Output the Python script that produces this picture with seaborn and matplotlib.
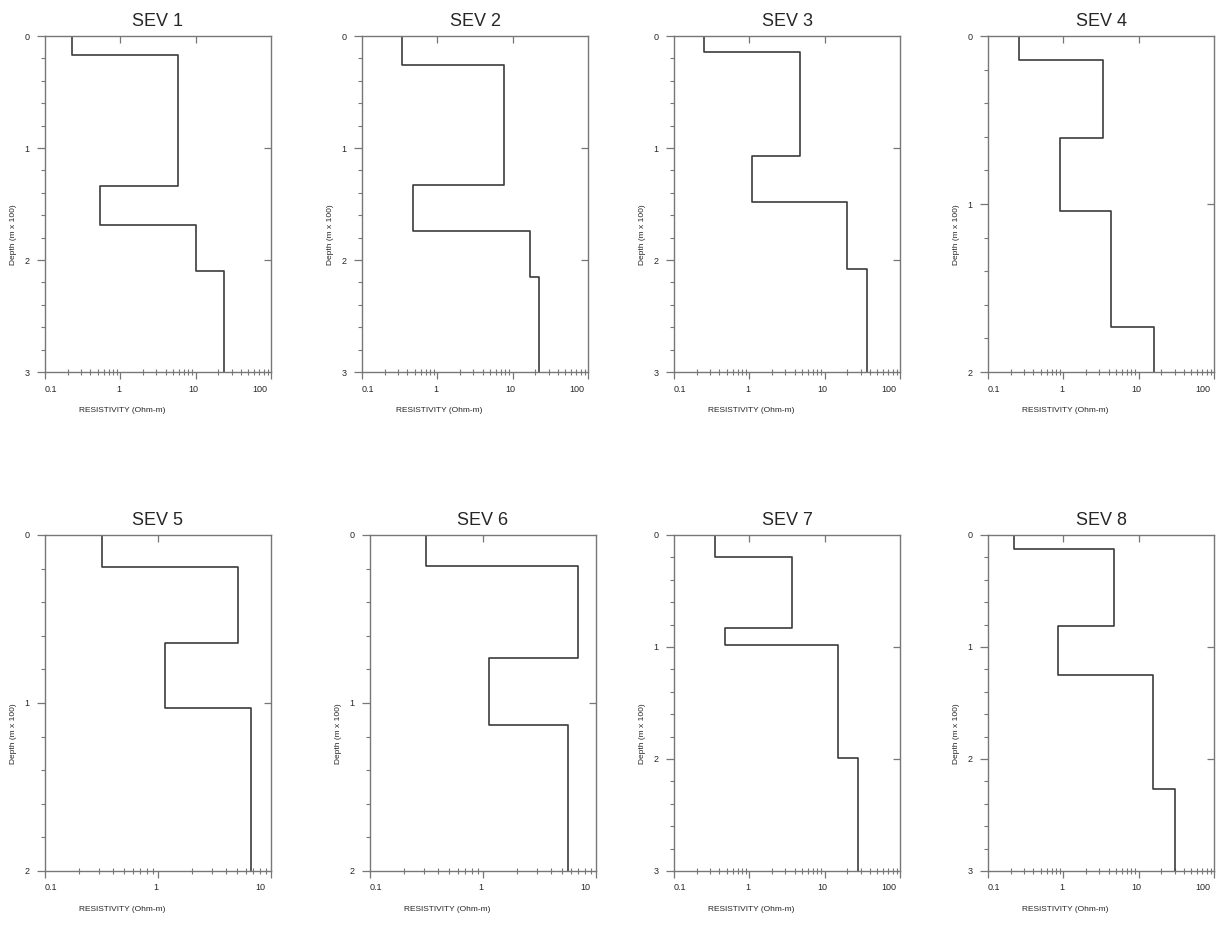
import numpy as np
import pandas as pd
import matplotlib
matplotlib.use("Agg")
import matplotlib.pyplot as plt
from matplotlib.transforms import ScaledTranslation
import seaborn as sns

sev_names = ["SEV 1", "SEV 2", "SEV 3", "SEV 4", "SEV 5", "SEV 6", "SEV 7", "SEV 8"]

# layer resistivities (Ohm-m) and layer bottom depths (m x 100)
sev1_res = [0.23, 5.8, 0.545, 10.2, 23.6]
sev1_depth = [0.17, 1.34, 1.69, 2.10]
sev2_res = [0.34, 7.6, 0.47, 17.0, 22.5]
sev2_depth = [0.26, 1.33, 1.74, 2.15]
sev3_res = [0.25, 4.75, 1.07, 19.8, 37.0]
sev3_depth = [0.14, 1.07, 1.48, 2.08]
sev4_res = [0.26, 3.4, 0.89, 4.3, 16.0]
sev4_depth = [0.145, 0.605, 1.04, 1.735]
sev5_res = [0.32, 5.1, 1.16, 6.6]
sev5_depth = [0.19, 0.645, 1.03]
sev6_res = [0.315, 7.0, 1.13, 5.7]
sev6_depth = [0.185, 0.73, 1.13]
sev7_res = [0.35, 3.7, 0.47, 15.2, 27.5]
sev7_depth = [0.20, 0.83, 0.98, 1.99]
sev8_res = [0.22, 4.7, 0.85, 15.4, 30.0]
sev8_depth = [0.125, 0.81, 1.25, 2.27]

all_res = [sev1_res, sev2_res, sev3_res, sev4_res, sev5_res, sev6_res, sev7_res, sev8_res]
all_depth = [sev1_depth, sev2_depth, sev3_depth, sev4_depth,
             sev5_depth, sev6_depth, sev7_depth, sev8_depth]
max_depth = [3, 3, 3, 2, 2, 2, 3, 3]
max_res = [100, 100, 100, 100, 10, 10, 100, 100]

sns.set_style("ticks")
plt.rcParams['font.family'] = ['Liberation Sans', 'DejaVu Sans']

spine_col = "#777777"
line_col = "#3c3c3c"

fig = plt.figure(figsize=(12.18, 9.32), dpi=100)
W, H = 1218, 932
lefts = [45, 362, 674, 988, 45, 370, 674, 988]
tops = [36, 36, 36, 36, 535, 535, 535, 535]
aw, ah = 226, 336


def step_frame(res, depth, dmax):
    xs, ys = [], []
    bounds = [0] + list(depth) + [dmax]
    for i, r in enumerate(res):
        xs += [r, r]
        ys += [bounds[i], bounds[i + 1]]
    return pd.DataFrame({"res": xs, "depth": ys})


for k in range(8):
    ax = fig.add_axes([lefts[k] / W, 1 - (tops[k] + ah) / H, aw / W, ah / H])
    df = step_frame(all_res[k], all_depth[k], max_depth[k])
    sns.lineplot(data=df, x="res", y="depth", sort=False, estimator=None,
                 ax=ax, color=line_col, lw=1.2)
    ax.set_xscale("log")
    ax.set_xlim(0.1, max_res[k])
    ax.set_ylim(max_depth[k], 0)

    decades = [0.1, 1, 10, 100] if max_res[k] == 100 else [0.1, 1, 10]
    ax.set_xticks(decades)
    ax.set_xticklabels([f"{d:g}" for d in decades])
    minors = [m * d for d in decades[:-1] for m in range(2, 10)]
    ax.set_xticks(minors, minor=True)
    ax.set_yticks(range(0, max_depth[k] + 1))
    ax.set_yticks(np.arange(0, max_depth[k] + 0.01, 0.2), minor=True)

    ax.tick_params(axis="x", which="major", direction="out", length=5, width=0.9,
                   color=spine_col, labelsize=6.5, pad=4, top=False)
    ax.tick_params(axis="x", which="minor", direction="inout", length=4, width=0.8,
                   color=spine_col, top=False)
    ax.tick_params(axis="y", which="major", direction="out", length=6, width=0.9,
                   color=spine_col, labelsize=6.5, pad=5, right=False)
    ax.tick_params(axis="y", which="minor", direction="out", length=3, width=0.8,
                   color=spine_col, right=False)

    # the x labels sit a little inward of their ticks in the original
    labels = ax.get_xticklabels()
    shifts = [6] + [-2] * (len(labels) - 2) + [-11]
    for lab, dx in zip(labels, shifts):
        lab.set_transform(lab.get_transform() + ScaledTranslation(dx / 100, 0, fig.dpi_scale_trans))

    # inward ticks on the top and right frame
    top = ax.secondary_xaxis("top")
    top.set_xticks(decades[1:-1])
    top.set_xticks([], minor=True)
    top.tick_params(direction="in", length=5, width=0.9, color=spine_col, labeltop=False)
    top.spines["top"].set_visible(False)
    right = ax.secondary_yaxis("right")
    right.set_yticks(range(1, max_depth[k]))
    right.set_yticks([], minor=True)
    right.tick_params(direction="in", length=5, width=0.9, color=spine_col, labelright=False)
    right.spines["right"].set_visible(False)

    for s in ax.spines.values():
        s.set_color(spine_col)
        s.set_linewidth(1.0)

    ax.set_title(sev_names[k], fontsize=13, pad=7)
    ax.set_xlabel("RESISTIVITY (Ohm-m)", fontsize=6)
    ax.set_ylabel("Depth (m x 100)", fontsize=6)
    ax.xaxis.set_label_coords(0.34, -0.105)
    ax.yaxis.set_label_coords(-0.125, 0.41)

fig.savefig("out.png", dpi=100)
